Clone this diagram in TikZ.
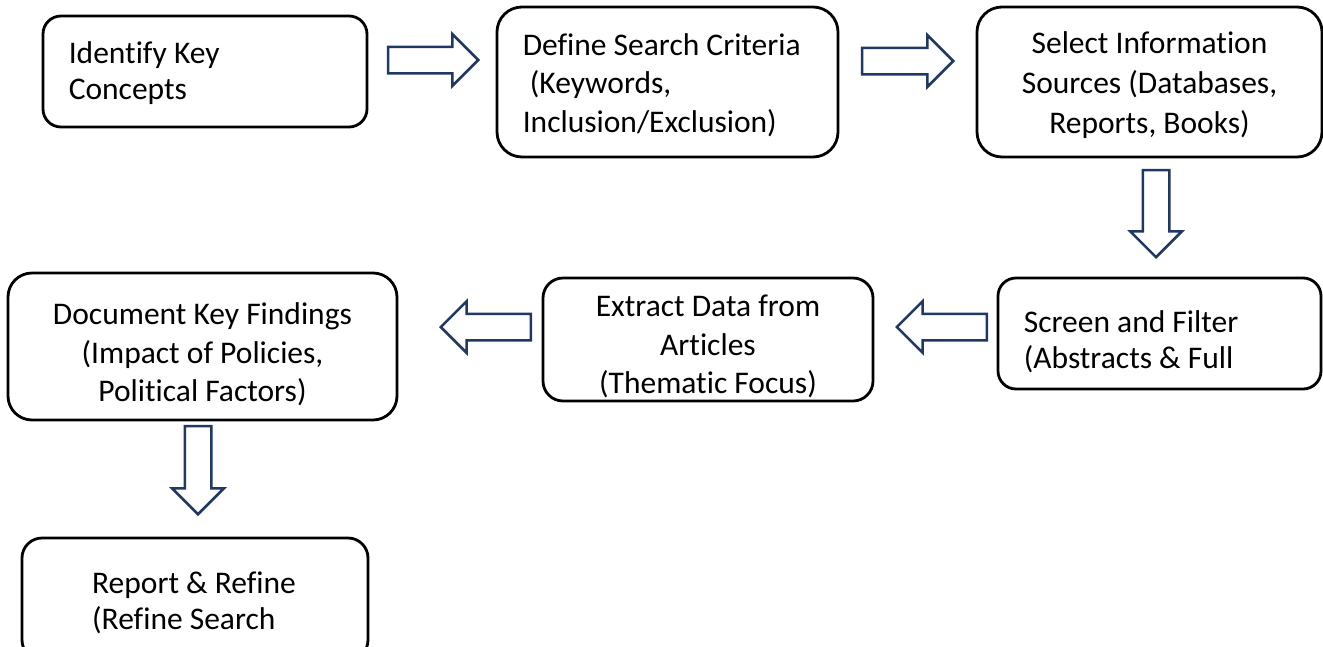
\documentclass[tikz,border=0pt]{standalone}
\usepackage{fontspec}
\setmainfont{Carlito}[Ligatures=NoCommon]
\usetikzlibrary{shapes.arrows}
\definecolor{arrowblue}{RGB}{31,56,100}
\begin{document}
\begin{tikzpicture}[x=1pt,y=-1pt,
  stage/.style={draw=black, line width=2.8pt, fill=white, inner sep=0pt},
  caption/.style={inner sep=0pt, font=\fontsize{31.5}{38.4}\selectfont},
  tight/.style={font=\fontsize{31.5}{36}\selectfont},
  loose/.style={font=\fontsize{31.5}{40}\selectfont},
  flow/.style={single arrow, draw=arrowblue, line width=2.5pt, fill=white,
    inner xsep=0pt, inner ysep=12pt, single arrow head extend=12.5pt,
    single arrow tip angle=90, minimum height=90pt, anchor=tip}
]
\useasboundingbox (0,0) rectangle (1323,646);

% step boxes
\node[stage, rounded corners=18pt, minimum width=324pt, minimum height=111pt] (concepts) at (205,71.5) {};
\node[stage, rounded corners=25pt, minimum width=341pt, minimum height=150pt] (criteria) at (667.5,82) {};
\node[stage, rounded corners=25pt, minimum width=345pt, minimum height=150pt] (sources) at (1149.5,82) {};
\node[stage, rounded corners=18pt, minimum width=323pt, minimum height=111pt] (screen) at (1159.5,333.5) {};
\node[stage, rounded corners=20pt, minimum width=330pt, minimum height=123pt] (extract) at (708,339.5) {};
\node[stage, rounded corners=24pt, minimum width=389pt, minimum height=147pt] (findings) at (202.5,346.5) {};
\node[stage, rounded corners=20pt, minimum width=346pt, minimum height=122pt] (report) at (195,599) {};

% step texts
\node[caption, tight, align=flush left, anchor=west] (concepts-t)
  at ([xshift=27pt,yshift=-2pt]concepts.west) {Identify Key\\Concepts};
\node[caption, align=flush left, anchor=west] (criteria-t)
  at ([xshift=27pt,yshift=-3pt]criteria.west)
  {Define Search Criteria\\\hspace*{0.226em}(Keywords,\\Inclusion/Exclusion)};
\node[caption, loose, align=center] (sources-t)
  at ([yshift=-3pt]sources.center) {Select Information\\Sources (Databases,\\Reports, Books)};
\node[caption, tight, align=flush left, anchor=west] (screen-t)
  at ([xshift=27pt,yshift=-8pt]screen.west) {Screen and Filter\\(Abstracts \& Full};
\node[caption, align=center] (extract-t)
  at ([yshift=-7pt]extract.center) {Extract Data from\\Articles\\(Thematic Focus)};
\node[caption, align=center] (findings-t)
  at ([yshift=-8pt]findings.center) {Document Key Findings\\(Impact of Policies,\\Political Factors)};
\node[caption, tight, align=flush left] (report-t)
  at ([xshift=-1pt,yshift=-3.5pt]report.center) {Report \& Refine\\(Refine Search};

% block arrows between the steps
\node[flow] (a1) at (480,60) {};
\node[flow, minimum height=91pt] (a2) at (955,61) {};
\node[flow, rotate=-90, minimum height=87pt] (a3) at (1156,259) {};
\node[flow, rotate=180] (a4) at (895,327) {};
\node[flow, rotate=180] (a5) at (439,327) {};
\node[flow, rotate=-90, minimum height=88pt] (a6) at (198,516) {};
\end{tikzpicture}
\end{document}
